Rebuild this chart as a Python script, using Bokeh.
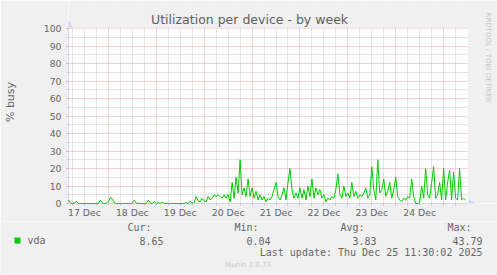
from bokeh.plotting import figure
from bokeh.layouts import column, row
from bokeh.models import Range1d, FixedTicker
from bokeh.core.properties import value
from bokeh.embed import file_html
from bokeh.resources import INLINE

# hours since Dec 17 04:00
hours = list(range(200))
vda = [
    2, 0.3, 0, 0.3, 1.2, 0, 0, 0, 0, 0,
    0, 0, 0, 0, 0, 0, 2, 0.3, 0, 0.2,
    1, 3.5, 2.5, 0.5, 0, 0, 0, 0, 0, 0,
    0, 0, 0.3, 2, 0.2, 0, 0, 0, 0, 0,
    2, 0.2, 0, 1, 0, 0.5, 0, 0.8, 0, 0,
    0, 0, 0, 0, 0, 0, 0, 0, 0, 0.5,
    0, 1.2, 0.2, 0.5, 4, 1.5, 1, 3, 1.5, 1,
    4, 2, 3, 5, 4, 5, 4, 3, 5, 3,
    5, 1, 12, 3, 15, 6, 25, 5, 9, 4,
    14, 4, 9, 3, 7, 2, 5, 2, 4, 1,
    3, 2, 4, 8, 12, 4, 2, 5, 9, 2,
    12, 20, 8, 3, 6, 3, 9, 3, 8, 2,
    10, 4, 14, 3, 9, 5, 8, 3, 5, 1,
    3, 2, 4, 3, 8, 17, 5, 3, 10, 4,
    6, 3, 12, 4, 7, 3, 5, 4, 6, 9,
    3, 5, 21, 8, 2, 25, 6, 8, 14, 4,
    7, 12, 3, 8, 15, 4, 2, 1, 3, 2,
    4, 3, 14, 4, 0, 0, 0.5, 10, 3, 20,
    5, 3, 12, 21, 3, 5, 12, 2, 20, 2,
    12, 19, 2, 18, 3, 2, 20, 2, 3, 2,
]
day_labels = ["17 Dec", "18 Dec", "19 Dec", "20 Dec", "21 Dec", "22 Dec", "23 Dec", "24 Dec"]
noon_hours = [8, 32, 56, 80, 104, 128, 152, 176]
midnight_hours = [20, 44, 68, 92, 116, 140, 164, 188]
six_hours = [h for h in range(2, 200, 6)]
y_ticks = list(range(0, 101, 10))
y_minor = list(range(5, 100, 10))
x_end, y_end = 200, 100

title = "Utilization per device - by week"
y_label = "% busy"
series_name = "vda"
cur_v, min_v, avg_v, max_v = "8.65", "0.04", "3.83", "43.79"
last_update = "Last update: Thu Dec 25 11:30:02 2025"
footer = "Munin 2.0.73"
side_text = "RRDTOOL / TOBI OETIKER"

FONT = "DejaVu Sans"
MONO = "DejaVu Sans Mono"
TXT = "#666666"
AXIS = "#CFD6F8"
BG = "#F0F0F0"
GREEN = "#00CC00"


def txt(f, x, y, s, size, font=FONT, align="left", color=TXT, angle=0.0):
    f.text(x=[x], y=[y], text=[s], text_font=value(font), text_font_size=value(size),
           text_align=align, text_baseline="middle", text_color=color, angle=angle)


# ---- main chart: frame reaches the top and right edges (gray bands painted there) ----
# 2 px per hour, 1.75 px per percent; frame is 430 x 203 px
p = figure(width=497, height=221, output_backend="svg", toolbar_location=None, title=None,
           x_range=Range1d(0, 215), y_range=Range1d(0, 116),
           min_border_left=67, min_border_right=0, min_border_top=0, min_border_bottom=18)
p.background_fill_color = "white"
p.border_fill_color = BG
p.outline_line_color = None

xg = p.xgrid[0]
xg.ticker = FixedTicker(ticks=midnight_hours, minor_ticks=[h for h in six_hours if h not in midnight_hours])
xg.grid_line_color = "#E8A0A0"
xg.grid_line_dash = "1 1"
xg.minor_grid_line_color = "#C8C8C8"
xg.minor_grid_line_dash = "1 1"
yg = p.ygrid[0]
yg.ticker = FixedTicker(ticks=y_ticks, minor_ticks=y_minor)
yg.grid_line_color = "#E8A0A0"
yg.grid_line_dash = "1 1"
yg.minor_grid_line_color = "#C8C8C8"
yg.minor_grid_line_dash = "1 1"

xa = p.xaxis[0]
xa.ticker = FixedTicker(ticks=noon_hours, minor_ticks=six_hours)
xa.major_label_overrides = {h: l for h, l in zip(noon_hours, day_labels)}
xa.bounds = (0, x_end)
xa.major_tick_line_color = None
xa.minor_tick_line_color = "#D8B8B8"
xa.minor_tick_in = 0
xa.minor_tick_out = 2
xa.major_label_standoff = -3
ya = p.yaxis[0]
ya.ticker = FixedTicker(ticks=y_ticks, minor_ticks=y_minor)
ya.bounds = (0, y_end)
ya.major_tick_line_color = "#E8A0A0"
ya.major_tick_in = 0
ya.major_tick_out = 2
ya.minor_tick_line_color = "#C8C8C8"
ya.minor_tick_in = 0
ya.minor_tick_out = 2
ya.major_label_standoff = 5
ya.axis_label = y_label
ya.axis_label_text_font = FONT
ya.axis_label_text_font_size = "11px"
ya.axis_label_text_font_style = "normal"
ya.axis_label_text_color = TXT
ya.axis_label_standoff = 24
for ax in (xa, ya):
    ax.axis_line_color = AXIS
    ax.major_label_text_font = FONT
    ax.major_label_text_font_size = "9.3px"
    ax.major_label_text_color = TXT

# gray bands above 100 % and right of the last hour
p.quad(left=[0], right=[215], bottom=[y_end], top=[116], fill_color=BG, line_color=None)
p.quad(left=[x_end], right=[215], bottom=[0], top=[116], fill_color=BG, line_color=None)

# axis arrows
p.scatter(x=[0], y=[102], marker="triangle", size=7, fill_color=AXIS, line_color=AXIS)
p.scatter(x=[201.75], y=[0], marker="triangle", angle=-1.5707963, size=7,
          fill_color=AXIS, line_color=AXIS)

r = p.line(hours, vda, line_color=GREEN, line_width=1)
r.level = "overlay"

txt(p, 90.75, 105.14, title, "12.5px", align="center", color="#606060")
txt(p, 210, 109.14, side_text, "7px", align="left", color="#C8C8C8", angle=-1.5707963)

# ---- legend strip (below) ----
pb = figure(width=497, height=54, output_backend="svg", toolbar_location=None,
            x_axis_type=None, y_axis_type=None,
            x_range=Range1d(0, 497), y_range=Range1d(54, 0), min_border=0)
pb.outline_line_color = None
pb.background_fill_color = BG
pb.border_fill_color = BG
pb.grid.visible = False
Y0 = 221
pb.quad(left=[14], right=[20], top=[237 - Y0], bottom=[243 - Y0], fill_color=GREEN, line_color=None)
txt(pb, 27, 240 - Y0, series_name, "10px", font=MONO)
txt(pb, 151, 227 - Y0, "Cur:", "10px", font=MONO, align="right")
txt(pb, 163, 240 - Y0, cur_v, "10px", font=MONO, align="right")
txt(pb, 258, 227 - Y0, "Min:", "10px", font=MONO, align="right")
txt(pb, 270, 240 - Y0, min_v, "10px", font=MONO, align="right")
txt(pb, 364, 227 - Y0, "Avg:", "10px", font=MONO, align="right")
txt(pb, 376, 240 - Y0, avg_v, "10px", font=MONO, align="right")
txt(pb, 471, 227 - Y0, "Max:", "10px", font=MONO, align="right")
txt(pb, 482, 240 - Y0, max_v, "10px", font=MONO, align="right")
txt(pb, 482, 252 - Y0, last_update, "10px", font=MONO, align="right")
txt(pb, 247.5, 264 - Y0, footer, "7px", align="center", color="#C8C8C8")

layout = column(row(p, spacing=0), row(pb, spacing=0), spacing=0)
open("out.html", "w").write(file_html(layout, INLINE))
